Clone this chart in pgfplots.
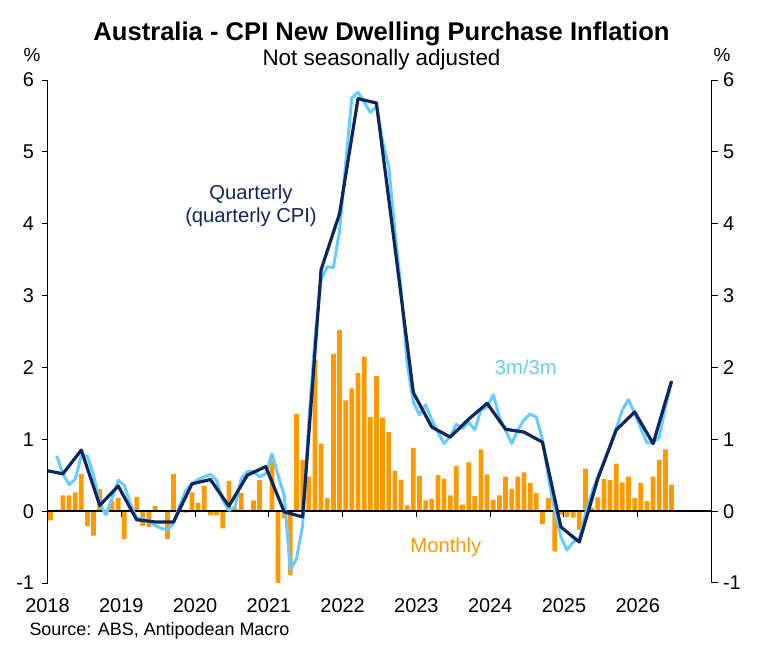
\documentclass[border=0pt]{standalone}
\usepackage{fontspec}
\setmainfont{Liberation Sans}
\usepackage{pgfplots}
\pgfplotsset{compat=1.18}
\usepackage{pgfplotstable}
\definecolor{barorange}{RGB}{255,153,0}
\definecolor{lblue}{RGB}{102,204,255}
\definecolor{navy}{RGB}{14,38,94}

\pgfplotstableread{
x y
0.5 -0.13
1.5 0.02
2.5 0.22
3.5 0.22
4.5 0.26
5.5 0.52
6.5 -0.21
7.5 -0.34
8.5 0.31
9.5 -0.05
10.5 0.14
11.5 0.18
12.5 -0.39
13.5 0.02
14.5 0.20
15.5 -0.21
16.5 -0.22
17.5 0.07
18.5 0.01
19.5 -0.39
20.5 0.52
21.5 0.04
22.5 -0.02
23.5 0.26
24.5 0.11
25.5 0.35
26.5 -0.06
27.5 -0.06
28.5 -0.24
29.5 0.42
30.5 0.05
31.5 0.25
32.5 0.01
33.5 0.15
34.5 0.43
35.5 0.01
36.5 0.72
37.5 -1.00
38.5 -0.10
39.5 -0.89
40.5 1.35
41.5 0.71
42.5 0.48
43.5 2.11
44.5 0.94
45.5 0.18
46.5 2.19
47.5 2.52
48.5 1.54
49.5 1.71
50.5 1.92
51.5 2.15
52.5 1.31
53.5 1.88
54.5 1.30
55.5 1.10
56.5 0.56
57.5 0.44
58.5 0.08
59.5 0.88
60.5 0.49
61.5 0.15
62.5 0.17
63.5 0.50
64.5 0.45
65.5 0.22
66.5 0.63
67.5 0.09
68.5 0.68
69.5 0.21
70.5 0.86
71.5 0.51
72.5 0.16
73.5 0.22
74.5 0.48
75.5 0.31
76.5 0.48
77.5 0.54
78.5 0.39
79.5 0.25
80.5 -0.18
81.5 0.18
82.5 -0.56
83.5 -0.05
84.5 -0.08
85.5 -0.09
86.5 -0.26
87.5 0.59
88.5 0.05
89.5 0.19
90.5 0.45
91.5 0.43
92.5 0.66
93.5 0.40
94.5 0.48
95.5 0.18
96.5 0.39
97.5 0.14
98.5 0.48
99.5 0.71
100.5 0.86
101.5 0.37
}\monthly

\pgfplotstableread{
x y
1.5 0.77
2.5 0.52
3.5 0.37
4.5 0.44
5.5 0.77
6.5 0.77
7.5 0.50
8.5 0.11
9.5 -0.05
10.5 0.18
11.5 0.43
12.5 0.36
13.5 0.10
14.5 -0.10
15.5 -0.10
16.5 -0.15
17.5 -0.20
18.5 -0.24
19.5 -0.26
20.5 -0.17
21.5 0.08
22.5 0.29
23.5 0.38
24.5 0.44
25.5 0.48
26.5 0.51
27.5 0.43
28.5 0.15
29.5 0.01
30.5 0.06
31.5 0.45
32.5 0.55
33.5 0.55
34.5 0.48
35.5 0.52
36.5 0.80
37.5 0.50
38.5 0.22
39.5 -0.82
40.5 -0.66
41.5 -0.20
42.5 1.25
43.5 2.40
44.5 3.22
45.5 3.40
46.5 3.39
47.5 3.90
48.5 4.84
49.5 5.75
50.5 5.83
51.5 5.69
52.5 5.55
53.5 5.63
54.5 5.15
55.5 4.80
56.5 3.90
57.5 3.10
58.5 2.05
59.5 1.52
60.5 1.34
61.5 1.48
62.5 1.27
63.5 1.10
64.5 0.94
65.5 1.04
66.5 1.21
67.5 1.15
68.5 1.24
69.5 1.13
70.5 1.41
71.5 1.45
72.5 1.62
73.5 1.31
74.5 1.13
75.5 0.94
76.5 1.13
77.5 1.27
78.5 1.35
79.5 1.31
80.5 1.00
81.5 0.45
82.5 0.00
83.5 -0.36
84.5 -0.54
85.5 -0.43
86.5 -0.38
87.5 -0.03
88.5 0.25
89.5 0.48
90.5 0.69
91.5 0.90
92.5 1.15
93.5 1.41
94.5 1.55
95.5 1.36
96.5 1.15
97.5 0.95
98.5 0.95
99.5 1.03
100.5 1.45
101.5 1.80
}\threem

\pgfplotstableread{
x y
-0.5 0.57
2.5 0.52
5.5 0.85
8.5 0.08
11.5 0.35
14.5 -0.12
17.5 -0.15
20.5 -0.15
23.5 0.38
26.5 0.44
29.5 0.07
32.5 0.50
35.5 0.62
38.5 -0.01
41.5 -0.08
44.5 3.36
47.5 4.14
50.5 5.74
53.5 5.68
56.5 3.68
59.5 1.65
62.5 1.17
65.5 1.03
68.5 1.28
71.5 1.50
74.5 1.14
77.5 1.10
80.5 0.96
83.5 -0.22
86.5 -0.43
89.5 0.45
92.5 1.13
95.5 1.38
98.5 0.94
101.5 1.81
}\quarterly

\begin{document}
\begin{tikzpicture}[x=1bp,y=1bp]
\useasboundingbox (0bp,0bp) rectangle (763bp,653bp);
\node[anchor=base, font=\bfseries\fontsize{25.7}{30}\selectfont] at (381.5bp,612bp) {Australia - CPI New Dwelling Purchase Inflation};
\node[anchor=base, font=\fontsize{22.5}{27}\selectfont] at (381.5bp,587bp) {Not seasonally adjusted};
\node[anchor=base, font=\fontsize{19}{23}\selectfont] at (32bp,591bp) {\%};
\node[anchor=base, font=\fontsize{19}{23}\selectfont] at (722bp,591bp) {\%};
\node[anchor=base west, font=\fontsize{18}{22}\selectfont] at (26bp,18bp) {Source: ABS, Antipodean Macro};

\begin{axis}[
  at={(47.5bp,70bp)}, anchor=south west, scale only axis,
  width=664bp, height=503bp,
  xmin=0, xmax=108, ymin=-1, ymax=6,
  clip mode=individual,
  axis x line=none, axis y line*=left,
  ytick={-1,0,1,2,3,4,5,6}, yticklabels={-1,0,1,2,3,4,5,6},
  tick align=outside, major tick length=6bp,
  y axis line style={line width=1bp, black},
  ytick style={line width=1bp, black},
  yticklabel style={font=\fontsize{20}{24}\selectfont, xshift=-4bp},
]
\addplot[ybar, bar width=0.77, fill=barorange, draw=none] table[x=x,y=y]{\monthly};
\draw[line width=1.3bp, black] (axis cs:0,0) -- (axis cs:108,0);
\pgfplotsinvokeforeach{12,24,36,48,60,72,84,96}{
  \draw[line width=1bp, black] (axis cs:#1,0) -- ++(0bp,-6bp);
}
\pgfplotsinvokeforeach{0,1,2,3,4,5,6,7,8}{
  \node[anchor=base, yshift=-29bp, font=\fontsize{20}{24}\selectfont] at (axis cs:{12*#1},-1) {\the\numexpr2018+#1\relax};
}
\addplot[lblue, line width=3bp, line join=round] table[x=x,y=y]{\threem};
\addplot[navy, line width=3.2bp, line join=round] table[x=x,y=y]{\quarterly};
\node[navy, align=center, font=\fontsize{20.3}{23}\selectfont] at (axis cs:33.1,4.25) {Quarterly\\(quarterly CPI)};
\node[lblue, font=\fontsize{20.3}{24}\selectfont] at (axis cs:77.8,2.0) {3m/3m};
\node[barorange, font=\fontsize{20.3}{24}\selectfont] at (axis cs:64.8,-0.5) {Monthly};
\end{axis}

\begin{axis}[
  at={(47.5bp,70bp)}, anchor=south west, scale only axis,
  width=664bp, height=503bp,
  xmin=0, xmax=108, ymin=-1, ymax=6,
  axis x line=none, axis y line*=right,
  ytick={-1,0,1,2,3,4,5,6}, yticklabels={-1,0,1,2,3,4,5,6},
  tick align=outside, major tick length=6bp,
  y axis line style={line width=1bp, black},
  ytick style={line width=1bp, black},
  yticklabel style={font=\fontsize{20}{24}\selectfont, xshift=2bp},
]
\end{axis}
\end{tikzpicture}
\end{document}
